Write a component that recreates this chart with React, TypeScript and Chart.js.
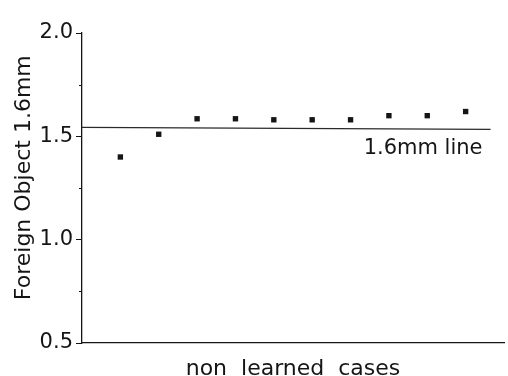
import React, { useEffect, useRef } from "react";
import { Chart, registerables } from "chart.js";

Chart.register(...registerables);

// Data
const caseIndex = [1, 2, 3, 4, 5, 6, 7, 8, 9, 10];
const foreignObjectValues = [1.40, 1.51, 1.585, 1.585, 1.58, 1.58, 1.58, 1.60, 1.60, 1.62];
const refLineX = [0, 10.65];
const refLineY = [1.543, 1.534];
const refLineLabel = "1.6mm line";
const yTitle = "Foreign Object 1.6mm";
const xTitle = "non  learned  cases";
const yMin = 0.5;
const yMax = 2.0;
const xMin = 0;
const xMax = 11;

const INK = "#151515";
const FONT = "'DejaVu Sans', sans-serif";

const customDraw = {
  id: "customDraw",
  afterDraw(chart: any) {
    const { ctx, chartArea, scales } = chart;
    const xs = scales.x;
    const ys = scales.y;
    ctx.save();
    // minor ticks on y axis
    ctx.strokeStyle = INK;
    ctx.lineWidth = 1;
    for (let v = yMin; v <= yMax + 1e-9; v += 0.25) {
      const r = Math.round(v * 100) / 100;
      if (Math.abs(r * 2 - Math.round(r * 2)) < 1e-6) continue;
      const py = Math.round(ys.getPixelForValue(r)) + 0.5;
      ctx.beginPath();
      ctx.moveTo(chartArea.left - 3, py);
      ctx.lineTo(chartArea.left, py);
      ctx.stroke();
    }
    // reference line label
    ctx.fillStyle = INK;
    ctx.font = `21px ${FONT}`;
    ctx.textAlign = "right";
    ctx.textBaseline = "alphabetic";
    ctx.fillText(refLineLabel, xs.getPixelForValue(10.44), ys.getPixelForValue(1.415));
    // x title
    ctx.font = `22px ${FONT}`;
    ctx.textAlign = "center";
    ctx.fillText(xTitle, (chartArea.left + chartArea.right) / 2, 375);
    // y title
    ctx.translate(30, ys.getPixelForValue(1.30));
    ctx.rotate(-Math.PI / 2);
    ctx.font = `22px ${FONT}`;
    ctx.textAlign = "center";
    ctx.textBaseline = "alphabetic";
    ctx.fillText(yTitle, 0, 0);
    ctx.restore();
  },
};

export default function App() {
  const ref = useRef<HTMLCanvasElement | null>(null);
  useEffect(() => {
    if (!ref.current) return;
    const chart = new Chart(ref.current, {
      type: "scatter",
      data: {
        datasets: [
          {
            label: "cases",
            data: caseIndex.map((c, i) => ({ x: c, y: foreignObjectValues[i] })),
            pointStyle: "rect",
            pointRadius: 3.8,
            pointBorderWidth: 0,
            backgroundColor: INK,
            borderColor: INK,
            showLine: false,
          },
          {
            label: refLineLabel,
            data: refLineX.map((x, i) => ({ x, y: refLineY[i] })),
            showLine: true,
            pointRadius: 0,
            borderColor: "#2a2a2a",
            borderWidth: 1.3,
          },
        ],
      },
      options: {
        responsive: false,
        animation: false,
        layout: { padding: { top: 33, right: 2, left: 0, bottom: 0 } },
        plugins: { legend: { display: false }, tooltip: { enabled: false } },
        scales: {
          x: {
            type: "linear",
            min: xMin,
            max: xMax,
            grid: { display: false },
            ticks: { display: false },
            border: { display: true, color: INK, width: 1.3 },
            afterFit: (s: any) => {
              s.height = 33;
            },
          },
          y: {
            type: "linear",
            min: yMin,
            max: yMax,
            grid: {
              display: true,
              drawOnChartArea: false,
              drawTicks: true,
              tickLength: 6,
              color: (c: any) => {
                const v = c.tick ? c.tick.value : 0;
                return Math.abs(v * 2 - Math.round(v * 2)) < 1e-6 ? INK : "rgba(0,0,0,0)";
              },
            },
            border: { display: true, color: INK, width: 1.3 },
            ticks: {
              stepSize: 0.25,
              autoSkip: false,
              padding: 3,
              color: INK,
              font: { family: FONT, size: 21 },
              callback: (v: any) => {
                const n = Number(v);
                return Math.abs(n * 2 - Math.round(n * 2)) < 1e-6 ? n.toFixed(1) : "";
              },
            },
            afterFit: (s: any) => {
              s.width = 82;
            },
          },
        },
      },
      plugins: [customDraw],
    });
    return () => chart.destroy();
  }, []);
  return (
    <canvas
      ref={ref}
      width={508}
      height={376}
      style={{ position: "absolute", left: 0, top: 0, display: "block", background: "#fff" }}
    />
  );
}
